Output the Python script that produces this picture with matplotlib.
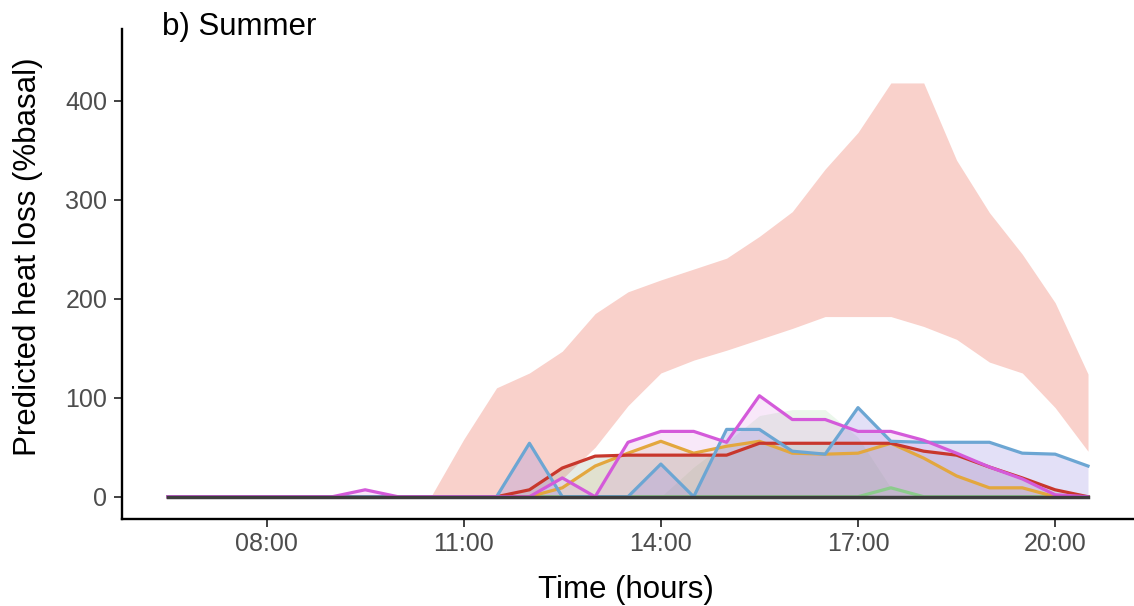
import matplotlib
matplotlib.use("Agg")
import matplotlib.pyplot as plt
import numpy as np

plt.rcParams['font.family'] = ['Liberation Sans', 'DejaVu Sans']

# ---- data ----
times = ["06:30", "07:00", "07:30", "08:00", "08:30", "09:00", "09:30", "10:00",
         "10:30", "11:00", "11:30", "12:00", "12:30", "13:00", "13:30", "14:00",
         "14:30", "15:00", "15:30", "16:00", "16:30", "17:00", "17:30", "18:00",
         "18:30", "19:00", "19:30", "20:00", "20:30"]

band_upper = [0, 0, 0, 0, 0, 0, 0, 0, 0, 58, 110, 125, 147, 185, 207, 219,
              230, 241, 263, 288, 331, 368, 418, 418, 340, 287, 245, 196, 124]
band_lower = [0, 0, 0, 0, 0, 0, 0, 0, 0, 0, 0, 0, 18, 50, 92, 125,
              138, 148, 159, 170, 182, 182, 182, 172, 159, 136, 125, 90, 46]

red_vals = [0, 0, 0, 0, 0, 0, 0, 0, 0, 0, 0, 7, 29, 41, 42, 42,
            42, 42, 54, 54, 54, 54, 54, 46, 42, 30, 19, 7, 0]
orange_vals = [0, 0, 0, 0, 0, 0, 0, 0, 0, 0, 0, 0, 9, 31, 44, 56,
               44, 51, 56, 44, 43, 44, 54, 39, 21, 9, 9, 0, 0]
magenta_vals = [0, 0, 0, 0, 0, 0, 7, 0, 0, 0, 0, 0, 19, 0, 55, 66,
                66, 55, 102, 78, 78, 66, 66, 57, 44, 30, 18, 2, 0]
blue_vals = [0, 0, 0, 0, 0, 0, 0, 0, 0, 0, 0, 54, 0, 0, 0, 33,
             0, 68, 68, 46, 43, 90, 56, 55, 55, 55, 44, 43, 31]
green_vals = [0, 0, 0, 0, 0, 0, 0, 0, 0, 0, 0, 0, 0, 0, 0, 0,
              0, 0, 0, 0, 0, 0, 9, 0, 0, 0, 0, 0, 0]
green_band = [0, 0, 0, 0, 0, 0, 0, 0, 0, 0, 0, 0, 0, 0, 0, 0,
              30, 55, 82, 88, 88, 60, 9, 0, 0, 0, 0, 0, 0]
zero_series = [0] * len(times)

xtick_labels = ["08:00", "11:00", "14:00", "17:00", "20:00"]
yticks = [0, 100, 200, 300, 400]

# ---- helpers ----
def to_hours(s):
    h, m = s.split(":")
    return int(h) + int(m) / 60.0

x = np.array([to_hours(t) for t in times])
xticks = [to_hours(t) for t in xtick_labels]

W, H = 1134, 606
fig = plt.figure(figsize=(W / 100, H / 100), dpi=100)
ax = fig.add_axes([122 / W, (H - 519) / H, (W - 122) / W, (519 - 29) / H])

# population band
ax.fill_between(x, band_lower, band_upper, color='#F9D1CB', lw=0, zorder=1)

# individual ribbons
ax.fill_between(x, 0, green_band, color='#C6EAC6', alpha=0.35, lw=0, zorder=2)
ax.fill_between(x, 0, red_vals, color='#8FA88F', alpha=0.22, lw=0, zorder=2)
ax.fill_between(x, 0, orange_vals, color='#C9A850', alpha=0.15, lw=0, zorder=2)
ax.fill_between(x, 0, magenta_vals, color='#D470DC', alpha=0.16, lw=0, zorder=2)
ax.fill_between(x, 0, blue_vals, color='#8C80E0', alpha=0.24, lw=0, zorder=2)

lw = 2.3
ax.plot(x, green_vals, color='#8CCB8C', lw=lw, zorder=3)
ax.plot(x, orange_vals, color='#E3A73E', lw=lw, zorder=3)
ax.plot(x, red_vals, color='#C8372C', lw=lw, zorder=3)
ax.plot(x, blue_vals, color='#6CA6D3', lw=lw, zorder=3)
ax.plot(x, magenta_vals, color='#D45ADA', lw=lw, zorder=3)
ax.plot(x, zero_series, color='#3D3D3D', lw=2.5, zorder=4)

ax.set_xlim(5.8, 21.2)
ax.set_ylim(-22.5, 472.5)
ax.set_xticks(xticks)
ax.set_xticklabels(xtick_labels)
ax.set_yticks(yticks)
ax.set_yticklabels([str(v) for v in yticks])

for s in ['top', 'right']:
    ax.spines[s].set_visible(False)
for s in ['left', 'bottom']:
    ax.spines[s].set_linewidth(1.7)
    ax.spines[s].set_color('black')

ax.tick_params(axis='both', length=5.5, width=1.3, color='#333333',
               labelcolor='#4D4D4D', labelsize=18)
ax.tick_params(axis='x', pad=4)
ax.tick_params(axis='y', pad=5)

fig.text(162 / W, 1 - 35 / H, "b) Summer", fontsize=22.5, color='black',
         ha='left', va='baseline')
fig.text(626 / W, 1 - 598 / H, "Time (hours)", fontsize=22.5, color='black',
         ha='center', va='baseline')
fig.text(28 / W, 1 - 257 / H, "Predicted heat loss (%basal)", fontsize=22.5,
         color='black', rotation=90, ha='center', va='center')

fig.savefig("out.png", dpi=100)
